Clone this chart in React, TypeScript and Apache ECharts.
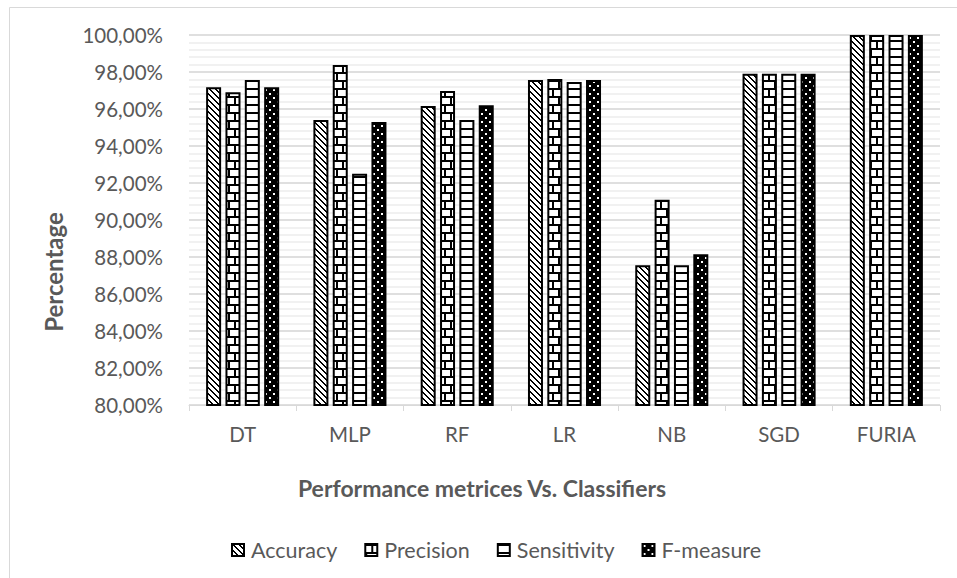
import React, { useEffect, useRef } from "react";
import * as echarts from "echarts";

const categories = ["DT", "MLP", "RF", "LR", "NB", "SGD", "FURIA"];
const accuracy = [97.17, 95.4, 96.16, 97.57, 87.55, 97.9, 100];
const precision = [96.9, 98.38, 96.97, 97.62, 91.1, 97.9, 100];
const sensitivity = [97.57, 92.5, 95.4, 97.46, 87.55, 97.9, 100];
const fMeasure = [97.17, 95.3, 96.2, 97.57, 88.15, 97.9, 100];
const seriesNames = ["Accuracy", "Precision", "Sensitivity", "F-measure"];
const yTicks = { min: 80, max: 100, interval: 2 };

const FONT = "Lato";
const GRAY = "#595959";

function makePattern(
  w: number,
  h: number,
  bg: string,
  fg: string,
  fn: (x: number, y: number) => boolean
) {
  const c = document.createElement("canvas");
  c.width = w;
  c.height = h;
  const ctx = c.getContext("2d")!;
  ctx.fillStyle = bg;
  ctx.fillRect(0, 0, w, h);
  ctx.fillStyle = fg;
  for (let y = 0; y < h; y++) {
    for (let x = 0; x < w; x++) {
      if (fn(x, y)) ctx.fillRect(x, y, 1, 1);
    }
  }
  return { image: c, repeat: "repeat", imageWidth: w, imageHeight: h } as any;
}

export default function App() {
  const ref = useRef<HTMLDivElement>(null);

  useEffect(() => {
    if (!ref.current) return;
    const chart = echarts.init(ref.current, null, { renderer: "svg" });

    const patAccuracy = makePattern(6, 6, "#ffffff", "#000000", (x, y) => {
      const d = (((x - y) % 6) + 6) % 6;
      return d === 0 || d === 1;
    });
    const patPrecision = makePattern(12, 16, "#ffffff", "#000000", (x, y) => {
      if (y % 8 < 2) return true;
      if (y < 8) return x === 6 || x === 7;
      return x === 0 || x === 1;
    });
    const patSensitivity = makePattern(4, 8, "#ffffff", "#000000", (x, y) => y % 8 < 2);
    const patF = makePattern(8, 8, "#000000", "#ffffff", (x, y) => {
      return (x >= 1 && x <= 2 && y >= 1 && y <= 2) || (x >= 5 && x <= 6 && y >= 5 && y <= 6);
    });
    const patterns = [patAccuracy, patPrecision, patSensitivity, patF];
    const datas = [accuracy, precision, sensitivity, fMeasure];

    chart.setOption({
      animation: false,
      textStyle: { fontFamily: FONT },
      grid: { left: 189, right: 17, top: 35, bottom: 173, containLabel: false },
      legend: {
        data: seriesNames,
        left: 226,
        top: 534,
        icon: "rect",
        itemWidth: 12,
        itemHeight: 12,
        itemGap: 27,
        textStyle: { color: GRAY, fontSize: 21.5, fontFamily: FONT, padding: [0, 0, 0, 2] },
      },
      xAxis: {
        type: "category",
        data: categories,
        axisLine: { lineStyle: { color: "#d9d9d9", width: 1 } },
        axisTick: { show: true, length: 6, interval: 0, lineStyle: { color: "#d9d9d9" } },
        axisLabel: { color: GRAY, fontSize: 20.5, fontFamily: FONT, margin: 18 },
        splitLine: { show: false },
      },
      yAxis: {
        type: "value",
        min: yTicks.min,
        max: yTicks.max,
        interval: yTicks.interval,
        axisLine: { show: false },
        axisTick: { show: false },
        axisLabel: {
          color: GRAY,
          fontSize: 20.5,
          fontFamily: FONT,
          margin: 26,
          formatter: (v: number) => v.toFixed(2).replace(".", ",") + "%",
        },
        splitLine: { show: true, lineStyle: { color: "#d4d4d4", width: 1.5 } },
        minorTick: { show: false, splitNumber: 5 },
        minorSplitLine: { show: true, lineStyle: { color: "#ececec", width: 1.5 } },
      },
      series: seriesNames.map((name, i) => ({
        name,
        type: "bar",
        data: datas[i],
        barWidth: 15,
        barGap: "29%",
        itemStyle: { color: patterns[i], borderColor: "#000000", borderWidth: 2 },
      })),
      graphic: [
        {
          type: "rect",
          z: -10,
          silent: true,
          shape: { x: 9.5, y: 7.5, width: 1000, height: 1000 },
          style: { fill: "none", stroke: "#d9d9d9", lineWidth: 1 },
        },
        {
          type: "text",
          x: 53,
          y: 272,
          rotation: Math.PI / 2,
          style: {
            text: "Percentage",
            fill: GRAY,
            font: `bold 24px ${FONT}`,
            align: "center",
            verticalAlign: "middle",
          },
        },
        {
          type: "text",
          x: 482,
          y: 488,
          style: {
            text: "Performance metrices Vs. Classifiers",
            fill: GRAY,
            font: `bold 23px ${FONT}`,
            align: "center",
            verticalAlign: "middle",
          },
        },
      ],
    });

    return () => chart.dispose();
  }, []);

  return (
    <div
      ref={ref}
      style={{ position: "absolute", left: 0, top: 0, width: 957, height: 578 }}
    />
  );
}
